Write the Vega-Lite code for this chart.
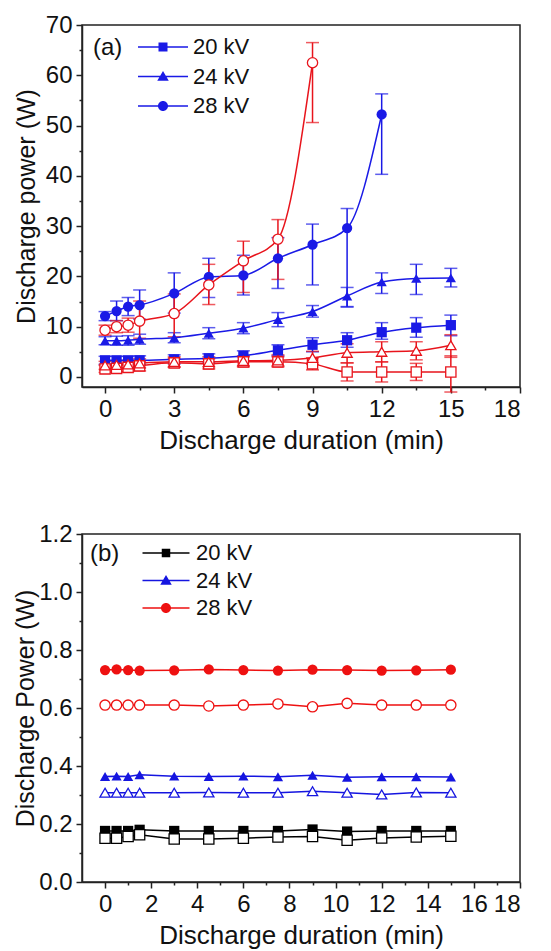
{
  "$schema": "https://vega.github.io/schema/vega-lite/v6.json",
  "background": "white",
  "padding": {"left": 12, "top": 12, "right": 17, "bottom": 5},
  "config": {
    "font": "Liberation Sans",
    "view": {"stroke": "#222", "strokeWidth": 1.5},
    "axis": {"domainColor": "#222", "domainWidth": 1.5, "tickColor": "#222", "tickWidth": 1.5, "tickSize": 6, "labelFontSize": 24, "labelColor": "#111", "titleFontSize": 26, "titleFontWeight": "normal", "titleColor": "#111", "grid": false, "labelFont": "Liberation Sans", "titleFont": "Liberation Sans", "labelPadding": 4},
    "legend": {"labelFont": "Liberation Sans", "titleFont": "Liberation Sans", "labelFontSize": 22, "titleFontSize": 24, "titleFontWeight": "normal", "labelColor": "#111", "titleColor": "#111"}
  },
  "datasets": {
    "a": [
      {"kV": "20 kV", "g": "filled", "t": 0, "v": 3.3, "lo": 2.5, "hi": 4.1},
      {"kV": "20 kV", "g": "filled", "t": 0.5, "v": 3.3, "lo": 2.5, "hi": 4.1},
      {"kV": "20 kV", "g": "filled", "t": 1, "v": 3.3, "lo": 2.5, "hi": 4.1},
      {"kV": "20 kV", "g": "filled", "t": 1.5, "v": 3.3, "lo": 2.5, "hi": 4.2},
      {"kV": "20 kV", "g": "filled", "t": 3, "v": 3.5, "lo": 2.6, "hi": 4.4},
      {"kV": "20 kV", "g": "filled", "t": 4.5, "v": 3.7, "lo": 2.8, "hi": 4.6},
      {"kV": "20 kV", "g": "filled", "t": 6, "v": 4.2, "lo": 3.2, "hi": 5.2},
      {"kV": "20 kV", "g": "filled", "t": 7.5, "v": 5.3, "lo": 4.2, "hi": 6.4},
      {"kV": "20 kV", "g": "filled", "t": 9, "v": 6.4, "lo": 5.0, "hi": 7.8},
      {"kV": "20 kV", "g": "filled", "t": 10.5, "v": 7.3, "lo": 5.9, "hi": 8.8},
      {"kV": "20 kV", "g": "filled", "t": 12, "v": 8.9, "lo": 7.5, "hi": 10.8},
      {"kV": "20 kV", "g": "filled", "t": 13.5, "v": 9.8, "lo": 7.9, "hi": 11.8},
      {"kV": "20 kV", "g": "filled", "t": 15, "v": 10.3, "lo": 8.2, "hi": 12.3},
      {"kV": "24 kV", "g": "filled", "t": 0, "v": 7.2, "lo": 6.4, "hi": 8.0},
      {"kV": "24 kV", "g": "filled", "t": 0.5, "v": 7.2, "lo": 6.3, "hi": 8.1},
      {"kV": "24 kV", "g": "filled", "t": 1, "v": 7.3, "lo": 6.3, "hi": 8.2},
      {"kV": "24 kV", "g": "filled", "t": 1.5, "v": 7.5, "lo": 6.5, "hi": 8.5},
      {"kV": "24 kV", "g": "filled", "t": 3, "v": 7.8, "lo": 6.8, "hi": 8.8},
      {"kV": "24 kV", "g": "filled", "t": 4.5, "v": 8.7, "lo": 7.6, "hi": 9.8},
      {"kV": "24 kV", "g": "filled", "t": 6, "v": 9.7, "lo": 8.6, "hi": 10.8},
      {"kV": "24 kV", "g": "filled", "t": 7.5, "v": 11.4, "lo": 10.0, "hi": 12.8},
      {"kV": "24 kV", "g": "filled", "t": 9, "v": 13.0, "lo": 11.9, "hi": 14.2},
      {"kV": "24 kV", "g": "filled", "t": 10.5, "v": 16.1, "lo": 13.9, "hi": 17.8},
      {"kV": "24 kV", "g": "filled", "t": 12, "v": 18.9, "lo": 16.6, "hi": 20.7},
      {"kV": "24 kV", "g": "filled", "t": 13.5, "v": 19.6, "lo": 16.4, "hi": 22.4},
      {"kV": "24 kV", "g": "filled", "t": 15, "v": 19.7, "lo": 17.9, "hi": 21.6},
      {"kV": "28 kV", "g": "filled", "t": 0, "v": 12.1, "lo": 11.2, "hi": 13.0},
      {"kV": "28 kV", "g": "filled", "t": 0.5, "v": 13.1, "lo": 11.2, "hi": 15.1},
      {"kV": "28 kV", "g": "filled", "t": 1, "v": 14.0, "lo": 12.2, "hi": 15.8},
      {"kV": "28 kV", "g": "filled", "t": 1.5, "v": 14.3, "lo": 11.5, "hi": 17.3},
      {"kV": "28 kV", "g": "filled", "t": 3, "v": 16.6, "lo": 12.7, "hi": 20.7},
      {"kV": "28 kV", "g": "filled", "t": 4.5, "v": 19.9, "lo": 15.8, "hi": 23.6},
      {"kV": "28 kV", "g": "filled", "t": 6, "v": 20.2, "lo": 16.3, "hi": 24.2},
      {"kV": "28 kV", "g": "filled", "t": 7.5, "v": 23.6, "lo": 17.6, "hi": 27.7},
      {"kV": "28 kV", "g": "filled", "t": 9, "v": 26.3, "lo": 18.3, "hi": 30.4},
      {"kV": "28 kV", "g": "filled", "t": 10.5, "v": 29.6, "lo": 14.0, "hi": 33.5},
      {"kV": "28 kV", "g": "filled", "t": 12, "v": 52.2, "lo": 40.3, "hi": 56.3},
      {"kV": "20 kV", "g": "open", "t": 0, "v": 1.6, "lo": 0.9, "hi": 2.3},
      {"kV": "20 kV", "g": "open", "t": 0.5, "v": 1.7, "lo": 1.0, "hi": 2.4},
      {"kV": "20 kV", "g": "open", "t": 1, "v": 1.9, "lo": 1.1, "hi": 2.7},
      {"kV": "20 kV", "g": "open", "t": 1.5, "v": 2.2, "lo": 1.2, "hi": 3.1},
      {"kV": "20 kV", "g": "open", "t": 3, "v": 2.8, "lo": 1.9, "hi": 3.7},
      {"kV": "20 kV", "g": "open", "t": 4.5, "v": 2.6, "lo": 1.6, "hi": 3.6},
      {"kV": "20 kV", "g": "open", "t": 6, "v": 3.0, "lo": 2.0, "hi": 4.0},
      {"kV": "20 kV", "g": "open", "t": 7.5, "v": 3.0, "lo": 2.0, "hi": 4.0},
      {"kV": "20 kV", "g": "open", "t": 9, "v": 2.6, "lo": 1.4, "hi": 3.8},
      {"kV": "20 kV", "g": "open", "t": 10.5, "v": 1.0, "lo": -0.8, "hi": 2.8},
      {"kV": "20 kV", "g": "open", "t": 12, "v": 1.0, "lo": -1.0, "hi": 3.0},
      {"kV": "20 kV", "g": "open", "t": 13.5, "v": 1.0, "lo": -0.7, "hi": 2.7},
      {"kV": "20 kV", "g": "open", "t": 15, "v": 1.0, "lo": -3.0, "hi": 4.2},
      {"kV": "24 kV", "g": "open", "t": 0, "v": 2.3, "lo": 1.5, "hi": 3.1},
      {"kV": "24 kV", "g": "open", "t": 0.5, "v": 2.4, "lo": 1.6, "hi": 3.2},
      {"kV": "24 kV", "g": "open", "t": 1, "v": 2.5, "lo": 1.7, "hi": 3.3},
      {"kV": "24 kV", "g": "open", "t": 1.5, "v": 2.7, "lo": 1.8, "hi": 3.6},
      {"kV": "24 kV", "g": "open", "t": 3, "v": 3.0, "lo": 2.0, "hi": 4.0},
      {"kV": "24 kV", "g": "open", "t": 4.5, "v": 3.0, "lo": 2.0, "hi": 4.0},
      {"kV": "24 kV", "g": "open", "t": 6, "v": 3.2, "lo": 2.2, "hi": 4.2},
      {"kV": "24 kV", "g": "open", "t": 7.5, "v": 3.3, "lo": 2.2, "hi": 4.4},
      {"kV": "24 kV", "g": "open", "t": 9, "v": 3.8, "lo": 2.5, "hi": 5.1},
      {"kV": "24 kV", "g": "open", "t": 10.5, "v": 4.8, "lo": 2.8, "hi": 6.6},
      {"kV": "24 kV", "g": "open", "t": 12, "v": 5.0, "lo": 3.0, "hi": 7.0},
      {"kV": "24 kV", "g": "open", "t": 13.5, "v": 5.2, "lo": 3.4, "hi": 7.0},
      {"kV": "24 kV", "g": "open", "t": 15, "v": 6.3, "lo": 3.9, "hi": 8.4},
      {"kV": "28 kV", "g": "open", "t": 0, "v": 9.3, "lo": 8.3, "hi": 10.3},
      {"kV": "28 kV", "g": "open", "t": 0.5, "v": 10.0, "lo": 8.8, "hi": 11.2},
      {"kV": "28 kV", "g": "open", "t": 1, "v": 10.3, "lo": 8.9, "hi": 11.7},
      {"kV": "28 kV", "g": "open", "t": 1.5, "v": 11.1, "lo": 7.7, "hi": 15.1},
      {"kV": "28 kV", "g": "open", "t": 3, "v": 12.6, "lo": 8.0, "hi": 16.5},
      {"kV": "28 kV", "g": "open", "t": 4.5, "v": 18.3, "lo": 14.4, "hi": 22.4},
      {"kV": "28 kV", "g": "open", "t": 6, "v": 23.1, "lo": 16.8, "hi": 27.0},
      {"kV": "28 kV", "g": "open", "t": 7.5, "v": 27.4, "lo": 19.4, "hi": 31.3},
      {"kV": "28 kV", "g": "open", "t": 9, "v": 62.5, "lo": 50.6, "hi": 66.5}
    ],
    "b": [
      {"kV": "20 kV", "g": "filled", "t": 0, "v": 0.176},
      {"kV": "20 kV", "g": "filled", "t": 0.5, "v": 0.176},
      {"kV": "20 kV", "g": "filled", "t": 1, "v": 0.176},
      {"kV": "20 kV", "g": "filled", "t": 1.5, "v": 0.180},
      {"kV": "20 kV", "g": "filled", "t": 3, "v": 0.176},
      {"kV": "20 kV", "g": "filled", "t": 4.5, "v": 0.176},
      {"kV": "20 kV", "g": "filled", "t": 6, "v": 0.176},
      {"kV": "20 kV", "g": "filled", "t": 7.5, "v": 0.176},
      {"kV": "20 kV", "g": "filled", "t": 9, "v": 0.181},
      {"kV": "20 kV", "g": "filled", "t": 10.5, "v": 0.174},
      {"kV": "20 kV", "g": "filled", "t": 12, "v": 0.176},
      {"kV": "20 kV", "g": "filled", "t": 13.5, "v": 0.176},
      {"kV": "20 kV", "g": "filled", "t": 15, "v": 0.176},
      {"kV": "24 kV", "g": "filled", "t": 0, "v": 0.364},
      {"kV": "24 kV", "g": "filled", "t": 0.5, "v": 0.365},
      {"kV": "24 kV", "g": "filled", "t": 1, "v": 0.364},
      {"kV": "24 kV", "g": "filled", "t": 1.5, "v": 0.370},
      {"kV": "24 kV", "g": "filled", "t": 3, "v": 0.365},
      {"kV": "24 kV", "g": "filled", "t": 4.5, "v": 0.364},
      {"kV": "24 kV", "g": "filled", "t": 6, "v": 0.365},
      {"kV": "24 kV", "g": "filled", "t": 7.5, "v": 0.363},
      {"kV": "24 kV", "g": "filled", "t": 9, "v": 0.368},
      {"kV": "24 kV", "g": "filled", "t": 10.5, "v": 0.361},
      {"kV": "24 kV", "g": "filled", "t": 12, "v": 0.363},
      {"kV": "24 kV", "g": "filled", "t": 13.5, "v": 0.363},
      {"kV": "24 kV", "g": "filled", "t": 15, "v": 0.362},
      {"kV": "28 kV", "g": "filled", "t": 0, "v": 0.731},
      {"kV": "28 kV", "g": "filled", "t": 0.5, "v": 0.733},
      {"kV": "28 kV", "g": "filled", "t": 1, "v": 0.731},
      {"kV": "28 kV", "g": "filled", "t": 1.5, "v": 0.729},
      {"kV": "28 kV", "g": "filled", "t": 3, "v": 0.730},
      {"kV": "28 kV", "g": "filled", "t": 4.5, "v": 0.733},
      {"kV": "28 kV", "g": "filled", "t": 6, "v": 0.731},
      {"kV": "28 kV", "g": "filled", "t": 7.5, "v": 0.729},
      {"kV": "28 kV", "g": "filled", "t": 9, "v": 0.732},
      {"kV": "28 kV", "g": "filled", "t": 10.5, "v": 0.731},
      {"kV": "28 kV", "g": "filled", "t": 12, "v": 0.729},
      {"kV": "28 kV", "g": "filled", "t": 13.5, "v": 0.730},
      {"kV": "28 kV", "g": "filled", "t": 15, "v": 0.732},
      {"kV": "20 kV", "g": "open", "t": 0, "v": 0.151},
      {"kV": "20 kV", "g": "open", "t": 0.5, "v": 0.151},
      {"kV": "20 kV", "g": "open", "t": 1, "v": 0.157},
      {"kV": "20 kV", "g": "open", "t": 1.5, "v": 0.163},
      {"kV": "20 kV", "g": "open", "t": 3, "v": 0.148},
      {"kV": "20 kV", "g": "open", "t": 4.5, "v": 0.148},
      {"kV": "20 kV", "g": "open", "t": 6, "v": 0.151},
      {"kV": "20 kV", "g": "open", "t": 7.5, "v": 0.155},
      {"kV": "20 kV", "g": "open", "t": 9, "v": 0.157},
      {"kV": "20 kV", "g": "open", "t": 10.5, "v": 0.144},
      {"kV": "20 kV", "g": "open", "t": 12, "v": 0.152},
      {"kV": "20 kV", "g": "open", "t": 13.5, "v": 0.155},
      {"kV": "20 kV", "g": "open", "t": 15, "v": 0.158},
      {"kV": "24 kV", "g": "open", "t": 0, "v": 0.308},
      {"kV": "24 kV", "g": "open", "t": 0.5, "v": 0.308},
      {"kV": "24 kV", "g": "open", "t": 1, "v": 0.308},
      {"kV": "24 kV", "g": "open", "t": 1.5, "v": 0.308},
      {"kV": "24 kV", "g": "open", "t": 3, "v": 0.308},
      {"kV": "24 kV", "g": "open", "t": 4.5, "v": 0.309},
      {"kV": "24 kV", "g": "open", "t": 6, "v": 0.308},
      {"kV": "24 kV", "g": "open", "t": 7.5, "v": 0.308},
      {"kV": "24 kV", "g": "open", "t": 9, "v": 0.313},
      {"kV": "24 kV", "g": "open", "t": 10.5, "v": 0.308},
      {"kV": "24 kV", "g": "open", "t": 12, "v": 0.302},
      {"kV": "24 kV", "g": "open", "t": 13.5, "v": 0.309},
      {"kV": "24 kV", "g": "open", "t": 15, "v": 0.308},
      {"kV": "28 kV", "g": "open", "t": 0, "v": 0.610},
      {"kV": "28 kV", "g": "open", "t": 0.5, "v": 0.610},
      {"kV": "28 kV", "g": "open", "t": 1, "v": 0.610},
      {"kV": "28 kV", "g": "open", "t": 1.5, "v": 0.610},
      {"kV": "28 kV", "g": "open", "t": 3, "v": 0.610},
      {"kV": "28 kV", "g": "open", "t": 4.5, "v": 0.607},
      {"kV": "28 kV", "g": "open", "t": 6, "v": 0.610},
      {"kV": "28 kV", "g": "open", "t": 7.5, "v": 0.614},
      {"kV": "28 kV", "g": "open", "t": 9, "v": 0.604},
      {"kV": "28 kV", "g": "open", "t": 10.5, "v": 0.616},
      {"kV": "28 kV", "g": "open", "t": 12, "v": 0.610},
      {"kV": "28 kV", "g": "open", "t": 13.5, "v": 0.610},
      {"kV": "28 kV", "g": "open", "t": 15, "v": 0.610}
    ]
  },
  "bounds": "flush",
  "spacing": 147,
  "resolve": {"scale": {"color": "independent", "shape": "independent", "x": "independent", "y": "independent"}, "legend": {"color": "independent", "shape": "independent"}},
  "vconcat": [
    {
      "width": 438,
      "height": 362,
      "data": {"name": "a"},
      "resolve": {"axis": {"x": "independent", "y": "independent"}, "scale": {"shape": "independent"}},
      "layer": [
        {
          "mark": {"type": "errorbar", "ticks": {"size": 13, "thickness": 1.5}, "thickness": 1.5},
          "encoding": {
            "x": {"field": "t", "type": "quantitative", "scale": {"domain": [-1, 18], "nice": false, "zero": false}, "axis": null},
            "y": {"field": "lo", "type": "quantitative", "scale": {"domain": [-2, 70], "nice": false, "zero": false}, "axis": null},
            "y2": {"field": "hi"},
            "color": {"field": "g", "type": "nominal", "scale": {"domain": ["filled", "open"], "range": ["#1a1ae6", "#e8141c"]}, "legend": null}
          }
        },
        {
          "mark": {"type": "line", "strokeWidth": 1.5, "interpolate": "monotone"},
          "encoding": {
            "x": {"field": "t", "type": "quantitative", "axis": {"values": [0, 3, 6, 9, 12, 15, 18], "title": "Discharge duration (min)", "orient": "bottom", "titlePadding": 6}},
            "y": {"field": "v", "type": "quantitative", "axis": {"values": [0, 10, 20, 30, 40, 50, 60, 70], "title": "Discharge power (W)", "orient": "left", "titlePadding": 6, "titleFontSize": 25}},
            "color": {"field": "g", "type": "nominal", "legend": null},
            "detail": {"field": "kV"}
          }
        },
        {
          "transform": [{"filter": "datum.g === 'filled'"}],
          "mark": {"type": "point", "filled": true, "size": 105, "opacity": 1},
          "encoding": {
            "x": {"field": "t", "type": "quantitative", "axis": {"values": [1.5, 4.5, 7.5, 10.5, 13.5, 16.5], "orient": "bottom", "labels": false, "domain": false, "tickSize": 3, "title": null}},
            "y": {"field": "v", "type": "quantitative", "axis": {"values": [5, 15, 25, 35, 45, 55, 65], "orient": "left", "labels": false, "domain": false, "tickSize": 3, "title": null}},
            "color": {"field": "g", "type": "nominal", "legend": null},
            "shape": {"field": "kV", "type": "nominal", "scale": {"domain": ["20 kV", "24 kV", "28 kV"], "range": ["square", "triangle-up", "circle"]}, "legend": null}
          }
        },
        {
          "transform": [{"filter": "datum.g === 'open'"}],
          "mark": {"type": "point", "filled": false, "fill": "white", "fillOpacity": 1, "size": 105, "strokeWidth": 1.3, "opacity": 1},
          "encoding": {
            "x": {"field": "t", "type": "quantitative", "axis": null},
            "y": {"field": "v", "type": "quantitative", "axis": null},
            "color": {"field": "g", "type": "nominal", "legend": null},
            "shape": {"field": "kV", "type": "nominal", "scale": {"domain": ["20 kV", "24 kV", "28 kV"], "range": ["square", "triangle-up", "circle"]}, "legend": null}
          }
        },
        {
          "transform": [{"filter": "false"}],
          "mark": {"type": "point", "filled": true, "color": "#1a1ae6", "size": 100, "opacity": 1},
          "encoding": {
            "x": {"field": "t", "type": "quantitative", "axis": null},
            "y": {"field": "v", "type": "quantitative", "axis": null},
            "shape": {"field": "kV", "type": "nominal", "scale": {"domain": ["20 kV", "24 kV", "28 kV"], "range": ["M-5,-0.15H5V0.15H-5Z M-0.9,-0.9H0.9V0.9H-0.9Z", "M-5,-0.15H5V0.15H-5Z M0,-1.1L1.15,0.85H-1.15Z", "M-5,-0.15H5V0.15H-5Z M-1,0A1,1,0,1,1,1,0A1,1,0,1,1,-1,0Z"]},
              "legend": {"title": "(a)", "titleOrient": "left", "titleAnchor": "start", "orient": "top-left", "offset": 11, "padding": 0, "labelFontSize": 22, "titleFontSize": 24, "symbolSize": 100, "symbolOpacity": 1, "symbolStrokeWidth": 0, "symbolOffset": 26, "labelOffset": 19, "rowPadding": 7.5, "titlePadding": 3}}
          }
        }
      ]
    },
    {
      "width": 438,
      "height": 348,
      "data": {"name": "b"},
      "resolve": {"axis": {"x": "independent", "y": "independent"}, "scale": {"shape": "independent", "color": "independent"}},
      "layer": [
        {
          "mark": {"type": "line", "strokeWidth": 1.5},
          "encoding": {
            "x": {"field": "t", "type": "quantitative", "scale": {"domain": [-1, 18], "nice": false, "zero": false}, "axis": {"values": [0, 2, 4, 6, 8, 10, 12, 14, 16, 18], "title": "Discharge duration (min)", "orient": "bottom", "titlePadding": 6}},
            "y": {"field": "v", "type": "quantitative", "scale": {"domain": [0, 1.2], "nice": false}, "axis": {"values": [0, 0.2, 0.4, 0.6, 0.8, 1.0, 1.2], "format": ".1f", "title": "Discharge Power (W)", "orient": "left", "titlePadding": 0, "titleFontSize": 25}},
            "color": {"field": "kV", "type": "nominal", "scale": {"domain": ["20 kV", "24 kV", "28 kV"], "range": ["#000000", "#1515e0", "#ee1111"]}, "legend": null},
            "detail": {"field": "g"}
          }
        },
        {
          "transform": [{"filter": "datum.g === 'filled'"}],
          "mark": {"type": "point", "filled": true, "size": 105, "opacity": 1},
          "encoding": {
            "x": {"field": "t", "type": "quantitative", "axis": {"values": [1, 3, 5, 7, 9, 11, 13, 15, 17], "orient": "bottom", "labels": false, "domain": false, "tickSize": 3, "title": null}},
            "y": {"field": "v", "type": "quantitative", "axis": {"values": [0.1, 0.3, 0.5, 0.7, 0.9, 1.1], "orient": "left", "labels": false, "domain": false, "tickSize": 3, "title": null}},
            "color": {"field": "kV", "type": "nominal", "scale": {"domain": ["20 kV", "24 kV", "28 kV"], "range": ["#000000", "#1515e0", "#ee1111"]}, "legend": null},
            "shape": {"field": "kV", "type": "nominal", "scale": {"domain": ["20 kV", "24 kV", "28 kV"], "range": ["square", "triangle-up", "circle"]}, "legend": null}
          }
        },
        {
          "transform": [{"filter": "datum.g === 'open'"}],
          "mark": {"type": "point", "filled": false, "fill": "white", "fillOpacity": 1, "size": 105, "strokeWidth": 1.3, "opacity": 1},
          "encoding": {
            "x": {"field": "t", "type": "quantitative", "axis": null},
            "y": {"field": "v", "type": "quantitative", "axis": null},
            "color": {"field": "kV", "type": "nominal", "scale": {"domain": ["20 kV", "24 kV", "28 kV"], "range": ["#000000", "#1515e0", "#ee1111"]}, "legend": null},
            "shape": {"field": "kV", "type": "nominal", "scale": {"domain": ["20 kV", "24 kV", "28 kV"], "range": ["square", "triangle-up", "circle"]}, "legend": null}
          }
        },
        {
          "transform": [{"filter": "false"}],
          "mark": {"type": "point", "filled": true, "size": 100, "opacity": 1},
          "encoding": {
            "x": {"field": "t", "type": "quantitative", "axis": null},
            "y": {"field": "v", "type": "quantitative", "axis": null},
            "color": {"field": "kV", "type": "nominal", "scale": {"domain": ["20 kV", "24 kV", "28 kV"], "range": ["#000000", "#1515e0", "#ee1111"]}, "legend": {"title": "(b)", "titleOrient": "left", "titleAnchor": "start", "orient": "top-left", "offset": 8, "padding": 0, "labelFontSize": 22, "titleFontSize": 24, "symbolSize": 100, "symbolOpacity": 1, "symbolStrokeWidth": 0, "symbolOffset": 32, "labelOffset": 19, "rowPadding": 5.5, "titlePadding": 3}},
            "shape": {"field": "kV", "type": "nominal", "scale": {"domain": ["20 kV", "24 kV", "28 kV"], "range": ["M-4.7,-0.15H4.7V0.15H-4.7Z M-0.85,-0.85H0.85V0.85H-0.85Z", "M-4.7,-0.15H4.7V0.15H-4.7Z M0,-1.1L1.15,0.85H-1.15Z", "M-4.7,-0.15H4.7V0.15H-4.7Z M-1,0A1,1,0,1,1,1,0A1,1,0,1,1,-1,0Z"]},
              "legend": {"title": "(b)", "titleOrient": "left", "titleAnchor": "start", "orient": "top-left", "offset": 8, "padding": 0, "labelFontSize": 22, "titleFontSize": 24, "symbolSize": 100, "symbolOpacity": 1, "symbolStrokeWidth": 0, "symbolOffset": 32, "labelOffset": 19, "rowPadding": 5.5, "titlePadding": 3}}
          }
        }
      ]
    }
  ]
}
